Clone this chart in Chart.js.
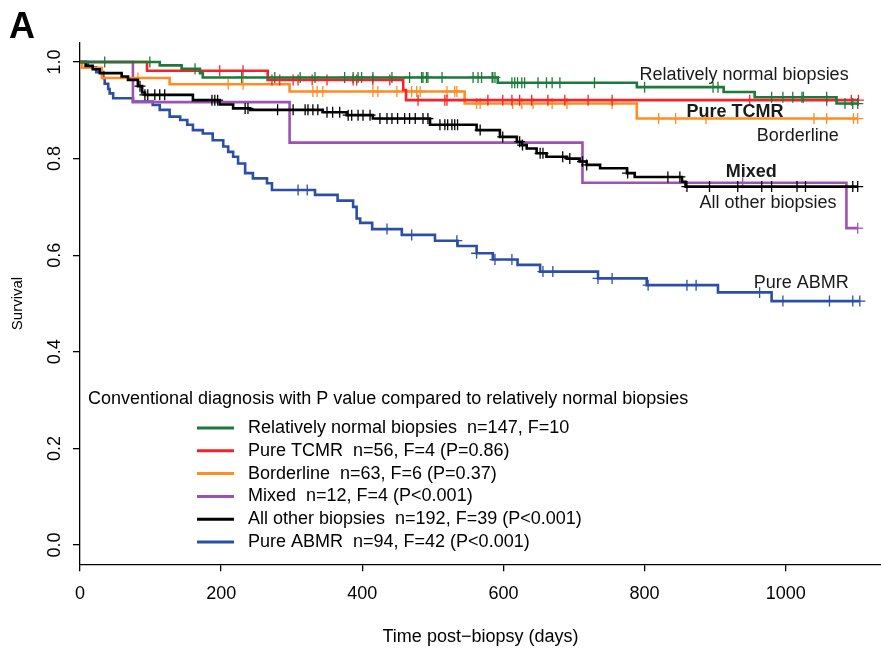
<!DOCTYPE html>
<html>
<head>
<meta charset="utf-8">
<title>Survival by conventional diagnosis</title>
<script src="https://cdn.jsdelivr.net/npm/chart.js@4.4.0/dist/chart.umd.min.js"></script>
<style>
  html, body { margin: 0; padding: 0; background: #fff; }
  canvas { display: block; }
</style>
</head>
<body>
<canvas id="kmChart" width="881" height="652"></canvas>
<script>
/* data S */
const groupNames = ['Relatively normal biopsies', 'Pure TCMR', 'Borderline', 'Mixed', 'All other biopsies', 'Pure ABMR'];
const legendStats = ['n=147, F=10', 'n=56, F=4 (P=0.86)', 'n=63, F=6 (P=0.37)', 'n=12, F=4 (P<0.001)', 'n=192, F=39 (P<0.001)', 'n=94, F=42 (P<0.001)'];
const legendTitle = 'Conventional diagnosis with P value compared to relatively normal biopsies';
const xTicks = [0, 200, 400, 600, 800, 1000];
const yTicks = [0, 0.2, 0.4, 0.6, 0.8, 1.0];

// event times (days) and survival after each event, censoring times
const normalTimes = [0, 113, 144, 170, 174, 592, 789, 912, 956, 1072];
const normalSurv = [1, 0.993, 0.986, 0.977, 0.968, 0.957, 0.948, 0.938, 0.927, 0.914];
const normalCensor = [35, 99, 163, 229, 276, 312, 333, 375, 387, 394, 399, 415, 442, 467, 484, 486, 491, 493, 513, 557, 564, 569, 584, 585, 588, 612, 616, 620, 626, 630, 649, 661, 669, 680, 729, 800, 897, 904, 980, 996, 1010, 1023, 1025, 1058, 1084, 1095, 1102];

const tcmrTimes = [0, 95, 266, 458, 462];
const tcmrSurv = [1, 0.982, 0.963, 0.942, 0.921];
const tcmrCensor = [198, 231, 272, 283, 302, 309, 329, 350, 387, 392, 415, 439, 479, 517, 520, 578, 599, 612, 623, 640, 663, 687, 720, 754, 949, 1058, 1093, 1103];

const borderTimes = [0, 3, 31, 127, 297, 545, 789];
const borderSurv = [1, 0.988, 0.967, 0.954, 0.939, 0.914, 0.883];
const borderCensor = [82, 210, 231, 330, 336, 344, 415, 422, 449, 470, 477, 482, 520, 531, 534, 562, 567, 613, 626, 642, 669, 690, 754, 820, 844, 887, 1040, 1058, 1096, 1102];

const mixedTimes = [0, 75, 297, 712, 1086];
const mixedSurv = [1, 0.917, 0.833, 0.75, 0.656];
const mixedCensor = [939, 1102];

const otherTimes = [0, 8, 18, 28, 59, 68, 82, 88, 92, 160, 198, 217, 241, 344, 378, 415, 496, 562, 595, 619, 626, 633, 647, 661, 690, 708, 718, 737, 775, 786, 853, 858];
const otherSurv = [1, 0.992, 0.985, 0.977, 0.970, 0.963, 0.950, 0.937, 0.932, 0.921, 0.912, 0.904, 0.901, 0.896, 0.890, 0.883, 0.870, 0.859, 0.845, 0.835, 0.828, 0.821, 0.811, 0.804, 0.800, 0.794, 0.787, 0.780, 0.770, 0.762, 0.752, 0.742];
const otherCensor = [85, 92, 96, 106, 113, 120, 187, 191, 195, 234, 238, 280, 302, 319, 323, 330, 337, 350, 358, 368, 380, 385, 394, 401, 411, 425, 435, 442, 450, 460, 467, 475, 486, 493, 510, 517, 521, 527, 531, 535, 567, 599, 623, 627, 652, 656, 684, 694, 712, 718, 776, 833, 850, 860, 892, 932, 966, 980, 1016, 1028, 1095, 1102];

const abmrTimes = [0, 11, 23, 33, 35, 40, 42, 47, 75, 103, 113, 127, 142, 152, 160, 174, 188, 203, 210, 217, 224, 234, 245, 265, 272, 333, 365, 387, 392, 397, 414, 456, 503, 535, 562, 585, 620, 652, 734, 803, 904, 980];
const abmrSurv = [1, 0.989, 0.979, 0.967, 0.955, 0.944, 0.935, 0.925, 0.918, 0.911, 0.901, 0.887, 0.880, 0.870, 0.859, 0.852, 0.838, 0.825, 0.814, 0.804, 0.790, 0.770, 0.759, 0.749, 0.735, 0.725, 0.713, 0.700, 0.676, 0.667, 0.654, 0.642, 0.630, 0.619, 0.604, 0.591, 0.580, 0.566, 0.552, 0.538, 0.523, 0.505];
const abmrCensor = [309, 322, 435, 470, 534, 562, 588, 612, 656, 670, 734, 754, 805, 860, 873, 963, 996, 1062, 1095, 1105];
/* data E */

// layer: lower number is drawn on top
const groups = [
  { times: normalTimes, surv: normalSurv, censor: normalCensor, color: '#1c7a3b', layer: 0 },
  { times: tcmrTimes, surv: tcmrSurv, censor: tcmrCensor, color: '#f5222a', layer: 1 },
  { times: borderTimes, surv: borderSurv, censor: borderCensor, color: '#ff8d24', layer: 3 },
  { times: mixedTimes, surv: mixedSurv, censor: mixedCensor, color: '#9b52b2', layer: 4 },
  { times: otherTimes, surv: otherSurv, censor: otherCensor, color: '#000000', layer: 2 },
  { times: abmrTimes, surv: abmrSurv, censor: abmrCensor, color: '#2b4ea6', layer: 5 }
];

// where the curve names sit, in data units
const curveLabels = [
  { text: 'Relatively normal biopsies', x: 941, y: 0.974, bold: false },
  { text: 'Pure TCMR', x: 928, y: 0.897, bold: true },
  { text: 'Borderline', x: 1017, y: 0.846, bold: false },
  { text: 'Mixed', x: 951, y: 0.773, bold: true },
  { text: 'All other biopsies', x: 975, y: 0.708, bold: false },
  { text: 'Pure ABMR', x: 1022, y: 0.543, bold: false }
];

const FONT = '"Liberation Sans", Arial, Helvetica, sans-serif';

function survAt(times, surv, t) {
  let v = surv[0];
  for (let i = 0; i < times.length; i++) {
    if (times[i] <= t) v = surv[i];
  }
  return v;
}

const datasets = [];
groups.forEach(function(g, i) {
  const end = Math.max.apply(null, g.censor);
  const pts = g.times.map(function(t, k) { return { x: t, y: g.surv[k] }; });
  pts.push({ x: end, y: g.surv[g.surv.length - 1] });
  datasets.push({
    label: groupNames[i],
    data: pts,
    stepped: true,
    borderColor: g.color,
    borderWidth: 2.6,
    pointRadius: 0,
    fill: false,
    order: g.layer
  });
  datasets.push({
    label: groupNames[i] + ' censored',
    data: g.censor.map(function(t) { return { x: t, y: survAt(g.times, g.surv, t) }; }),
    showLine: false,
    pointStyle: 'cross',
    pointRadius: 5.5,
    pointBorderWidth: 1.3,
    pointBorderColor: g.color,
    borderColor: g.color,
    order: g.layer
  });
});

const kmText = {
  id: 'kmText',
  afterDraw(chart) {
    const ctx = chart.ctx;
    const xs = chart.scales.x, ys = chart.scales.y;
    const area = chart.chartArea;
    ctx.save();
    ctx.fillStyle = '#000';

    // panel letter
    ctx.font = 'bold 36px ' + FONT;
    ctx.textAlign = 'left';
    ctx.textBaseline = 'alphabetic';
    ctx.fillText('A', 9, 38);

    // y tick labels turned like R's las=0
    ctx.font = '18px ' + FONT;
    ctx.textAlign = 'center';
    ctx.textBaseline = 'middle';
    yTicks.forEach(function(v) {
      ctx.save();
      ctx.translate(area.left - 25, ys.getPixelForValue(v));
      ctx.rotate(-Math.PI / 2);
      ctx.fillText(v.toFixed(1), 0, 0);
      ctx.restore();
    });

    // names beside the curves
    ctx.fillStyle = '#1a1a1a';
    curveLabels.forEach(function(l) {
      ctx.font = (l.bold ? 'bold ' : '') + '18px ' + FONT;
      ctx.fillText(l.text, xs.getPixelForValue(l.x), ys.getPixelForValue(l.y));
    });

    // legend
    ctx.fillStyle = '#000';
    ctx.font = '18px ' + FONT;
    ctx.textAlign = 'left';
    ctx.fillText(legendTitle, 88, 399);
    groups.forEach(function(g, i) {
      const yy = 428 + i * 22.8;
      ctx.strokeStyle = g.color;
      ctx.lineWidth = 3;
      ctx.beginPath();
      ctx.moveTo(197, yy);
      ctx.lineTo(234, yy);
      ctx.stroke();
      ctx.fillText(groupNames[i] + '  ' + legendStats[i], 248, yy);
    });
    ctx.restore();
  }
};

Chart.defaults.font.family = FONT;
Chart.defaults.color = '#000';

new Chart(document.getElementById('kmChart'), {
  type: 'line',
  data: { datasets: datasets },
  options: {
    responsive: false,
    animation: false,
    events: [],
    layout: { autoPadding: false, padding: { top: 42.7, right: 0, bottom: 0, left: 0 } },
    plugins: { legend: { display: false }, tooltip: { enabled: false } },
    scales: {
      x: {
        type: 'linear',
        min: 0,
        max: 1135,
        afterBuildTicks: function(s) { s.ticks = xTicks.map(function(v) { return { value: v }; }); },
        afterFit: function(s) { s.height = 87.7; s.paddingLeft = 0; s.paddingRight = 0; },
        ticks: { font: { size: 18 }, padding: 12, maxRotation: 0, autoSkip: false, callback: function(v) { return String(v); } },
        grid: { drawOnChartArea: false, drawTicks: true, tickLength: 7, color: '#000', lineWidth: 1.3 },
        border: { display: true, color: '#000', width: 1.3 },
        title: { display: true, text: 'Time post\u2212biopsy (days)', font: { size: 18 }, padding: { top: 0, bottom: 4.2 } }
      },
      y: {
        type: 'linear',
        min: -0.04,
        max: 1.04,
        afterBuildTicks: function(s) { s.ticks = yTicks.map(function(v) { return { value: v }; }); },
        afterFit: function(s) { s.width = 80; },
        ticks: { display: false },
        grid: { drawOnChartArea: false, drawTicks: true, tickLength: 7, color: '#000', lineWidth: 1.3 },
        border: { display: true, color: '#000', width: 1.3 },
        title: { display: true, text: 'Survival', font: { size: 15 }, padding: { top: 9, bottom: 0 } }
      }
    }
  },
  plugins: [kmText]
});
</script>
</body>
</html>
